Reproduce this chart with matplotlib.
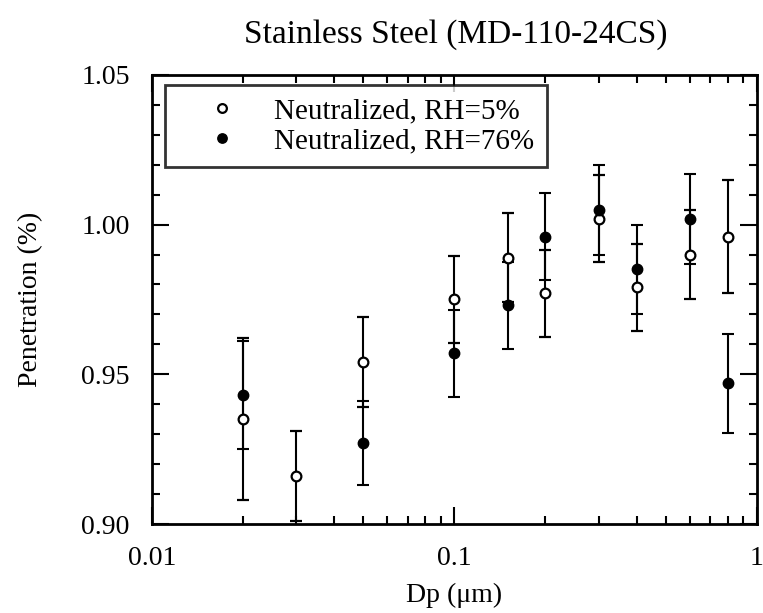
import matplotlib
matplotlib.use('Agg')
import matplotlib.pyplot as plt
from matplotlib.ticker import FixedLocator, NullFormatter, FixedFormatter

plt.rcParams['font.family'] = ['Liberation Serif', 'DejaVu Serif']

# data
dp_dry = [0.02, 0.03, 0.05, 0.1, 0.15, 0.2, 0.3, 0.4, 0.6, 0.8]
pen_dry = [0.935, 0.916, 0.954, 0.975, 0.989, 0.977, 1.002, 0.979, 0.990, 0.996]
err_dry = [0.027, 0.015, 0.015, 0.0145, 0.015, 0.0145, 0.0145, 0.0145, 0.015, 0.019]

dp_wet = [0.02, 0.05, 0.1, 0.15, 0.2, 0.3, 0.4, 0.6, 0.8]
pen_wet = [0.943, 0.927, 0.957, 0.973, 0.996, 1.005, 0.985, 1.002, 0.947]
err_wet = [0.018, 0.014, 0.0145, 0.0145, 0.0145, 0.015, 0.0147, 0.015, 0.0165]

labels = ['Neutralized, RH=5%', 'Neutralized, RH=76%']

fig = plt.figure(figsize=(7.63, 6.13), dpi=100)
ax = fig.add_axes([0.199, 0.145, 0.793, 0.733])

ax.errorbar(dp_dry, pen_dry, yerr=err_dry, fmt='o', mfc='white', mec='black',
            mew=1.6, ms=7, ecolor='black', elinewidth=1.5, capsize=4, capthick=1.5,
            color='black', label=labels[0])
ax.errorbar(dp_wet, pen_wet, yerr=err_wet, fmt='o', mfc='black', mec='black',
            ms=7.5, ecolor='black', elinewidth=1.5, capsize=4, capthick=1.5,
            color='black', label=labels[1])

ax.set_xscale('log')
ax.set_xlim(0.01, 1)
ax.set_ylim(0.90, 1.05)

ax.xaxis.set_major_locator(FixedLocator([0.01, 0.1, 1]))
ax.xaxis.set_major_formatter(FixedFormatter(['0.01', '0.1', '1']))
ax.xaxis.set_minor_locator(FixedLocator([k * d for d in (0.01, 0.1) for k in range(2, 10)]))
ax.xaxis.set_minor_formatter(NullFormatter())
ax.set_yticks([0.90, 0.95, 1.00, 1.05])
ax.set_yticklabels(['0.90', '0.95', '1.00', '1.05'])
ax.set_yticks([0.90 + 0.01 * i for i in range(16)], minor=True)

ax.tick_params(which='both', direction='in', top=True, right=True, width=1.5, labelsize=20)
ax.tick_params(which='major', length=12)
ax.tick_params(which='minor', length=6)
ax.tick_params(axis='x', pad=16)
ax.tick_params(axis='y', pad=16)
for s in ax.spines.values():
    s.set_linewidth(2)

ax.set_xlabel('Dp (μm)', fontsize=20, labelpad=8)
ax.set_ylabel('Penetration (%)', fontsize=20, labelpad=27)
fig.text(0.597, 0.943, 'Stainless Steel (MD-110-24CS)', fontsize=24, ha='center', va='center')

handles, _ = ax.get_legend_handles_labels()
handles = [h[0] for h in handles]
leg = ax.legend(handles, labels, loc='upper left', bbox_to_anchor=(0.0215, 0.978),
                borderaxespad=0, fontsize=21, frameon=True, fancybox=False,
                handletextpad=0.3, borderpad=0.45, labelspacing=0.12, handlelength=3,
                markerscale=0.9)
leg.get_frame().set_edgecolor('black')
leg.get_frame().set_linewidth(2)

fig.savefig('out.png', dpi=100)
